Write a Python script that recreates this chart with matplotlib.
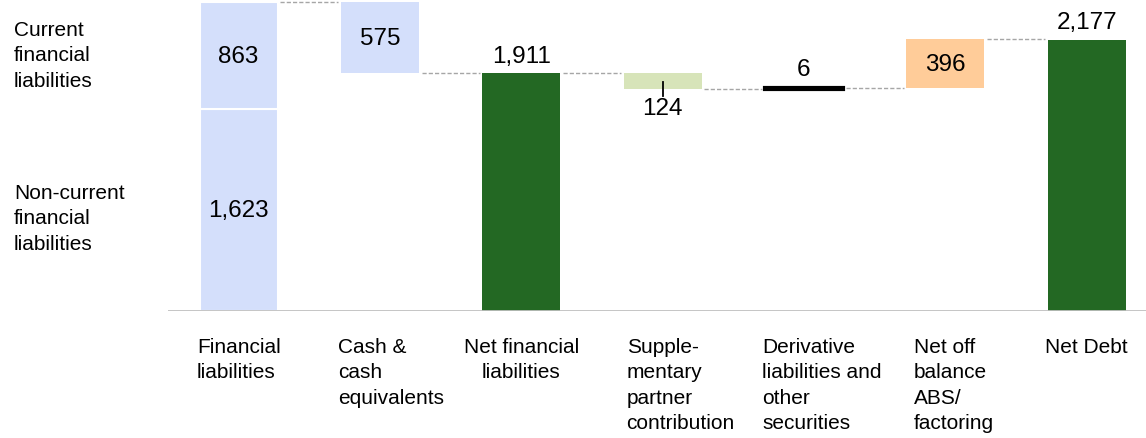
import matplotlib.pyplot as plt
from matplotlib.transforms import blended_transform_factory

plt.rcParams['font.family'] = ['Liberation Sans', 'DejaVu Sans']

categories = ['Financial\nliabilities', 'Cash &\ncash\nequivalents', 'Net financial\nliabilities',
              'Supple-\nmentary\npartner\ncontribution', 'Derivative\nliabilities and\nother\nsecurities',
              'Net off\nbalance\nABS/\nfactoring', 'Net Debt']
non_current = 1623
current = 863
cash = 575
net_financial = 1911
partner = 124
derivative = 6
off_balance = 396
net_debt = 2177

blue = '#d4dffb'
green = '#236823'
lightgreen = '#d7e4b9'
orange = '#ffcc99'
dash = '#a6a6a6'

fig = plt.figure(figsize=(11.46, 4.39), dpi=100)
ax = fig.add_axes([168 / 1146, 0.289, 1 - 168 / 1146, 0.711])
w = 0.55

# stacked first column
ax.bar(0, non_current, w, color=blue, edgecolor='white', linewidth=1.5)
ax.bar(0, current, w, bottom=non_current, color=blue, edgecolor='white', linewidth=1.5)
total = non_current + current

# cash reduces the total
ax.bar(1, cash, w, bottom=total - cash, color=blue, linewidth=0)
ax.bar(2, net_financial, w, color=green, linewidth=0)

lvl_partner = net_financial - partner
ax.bar(3, partner, w, bottom=lvl_partner, color=lightgreen, linewidth=0)

lvl_deriv = lvl_partner + derivative
ax.bar(4, derivative, w, bottom=lvl_partner, color='black', edgecolor='black', linewidth=3)

lvl_off = lvl_deriv + off_balance
ax.bar(5, off_balance, w, bottom=lvl_deriv, color=orange, linewidth=0)
ax.bar(6, net_debt, w, color=green, linewidth=0)

# dashed connectors between bars
levels = [total, total - cash, net_financial, lvl_partner, lvl_deriv, lvl_off]
for i, lv in enumerate(levels):
    ax.plot([i + w / 2 + 0.02, i + 1 - w / 2 - 0.02], [lv, lv], color=dash, lw=1, ls=(0, (3, 1.5)))

ax.axhline(0, color='#c0c0c0', lw=2)
ax.set_xlim(-0.5, 6.42)
ax.set_ylim(0, 2510)
ax.axis('off')

fs = 17.5
ax.text(0, non_current + current / 2, f'{current:,}', ha='center', va='center', fontsize=fs)
ax.text(0, non_current / 2, f'{non_current:,}', ha='center', va='center', fontsize=fs)
ax.text(1, total - cash / 2, f'{cash:,}', ha='center', va='center', fontsize=fs)
ax.annotate(f'{net_financial:,}', (2, net_financial), xytext=(0, 5), textcoords='offset points',
            ha='center', va='bottom', fontsize=fs)
ax.annotate(f'{derivative:,}', (4, lvl_deriv), xytext=(0, 6), textcoords='offset points',
            ha='center', va='bottom', fontsize=fs)
ax.text(5, lvl_deriv + off_balance / 2, f'{off_balance:,}', ha='center', va='center', fontsize=fs)
ax.annotate(f'{net_debt:,}', (6, net_debt), xytext=(0, 5), textcoords='offset points',
            ha='center', va='bottom', fontsize=fs)

# small tick from the partner bar down to its label
ax.plot([3, 3], [lvl_partner + partner / 2 - 10, lvl_partner - 57], color='black', lw=1.3)
ax.annotate(f'{partner:,}', (3, lvl_partner - 57), xytext=(0, -1), textcoords='offset points',
            ha='center', va='top', fontsize=fs)

# category labels under the axis
lfs = 15
ls = 1.42
shift = [0, 0, 0, 0.04, 0, 0.07, 0]
trans = blended_transform_factory(ax.transData, fig.transFigure)
label_y = 1 - 338 / 439
for i, lab in enumerate(categories):
    if i == 2:
        ax.text(i, label_y, lab, transform=trans, ha='center', va='top', fontsize=lfs,
                multialignment='center', linespacing=ls)
    else:
        ax.text(i - w / 2 - 0.02 + shift[i], label_y, lab, transform=trans, ha='left', va='top',
                fontsize=lfs, linespacing=ls)

fig.text(14 / 1146, 1 - 21 / 439, 'Current\nfinancial\nliabilities', ha='left', va='top',
         fontsize=lfs, linespacing=ls)
fig.text(14 / 1146, 1 - 184 / 439, 'Non-current\nfinancial\nliabilities', ha='left', va='top',
         fontsize=lfs, linespacing=ls)

fig.savefig('out.png', dpi=100)
